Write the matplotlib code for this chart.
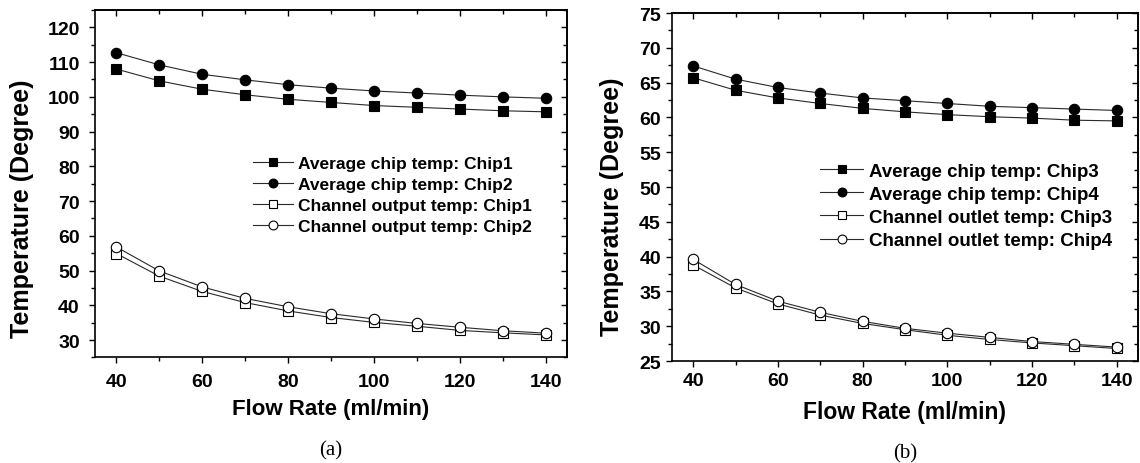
import matplotlib
matplotlib.use("Agg")
import matplotlib.pyplot as plt
from matplotlib.ticker import MultipleLocator

flow = [40, 50, 60, 70, 80, 90, 100, 110, 120, 130, 140]

# Panel (a)
a_avg_chip1 = [108.0, 104.6, 102.2, 100.6, 99.3, 98.4, 97.5, 97.0, 96.5, 96.0, 95.7]
a_avg_chip2 = [112.7, 109.2, 106.5, 104.9, 103.5, 102.5, 101.7, 101.1, 100.5, 100.0, 99.6]
a_out_chip1 = [54.9, 48.4, 44.0, 40.8, 38.4, 36.5, 35.1, 34.0, 32.8, 32.1, 31.5]
a_out_chip2 = [56.8, 49.9, 45.3, 42.0, 39.6, 37.6, 36.1, 34.8, 33.7, 32.7, 32.0]
a_labels = ["Average chip temp: Chip1", "Average chip temp: Chip2",
            "Channel output temp: Chip1", "Channel output temp: Chip2"]

# Panel (b)
b_avg_chip3 = [65.7, 63.9, 62.8, 62.0, 61.3, 60.8, 60.4, 60.1, 59.9, 59.6, 59.5]
b_avg_chip4 = [67.4, 65.5, 64.3, 63.5, 62.8, 62.4, 62.0, 61.6, 61.4, 61.2, 61.0]
b_out_chip3 = [38.8, 35.5, 33.2, 31.6, 30.4, 29.5, 28.7, 28.1, 27.6, 27.2, 26.8]
b_out_chip4 = [39.6, 36.0, 33.6, 32.0, 30.7, 29.7, 29.0, 28.4, 27.8, 27.4, 27.0]
b_labels = ["Average chip temp: Chip3", "Average chip temp: Chip4",
            "Channel outlet temp: Chip3", "Channel outlet temp: Chip4"]

SANS = "Liberation Sans"
SERIF = "Liberation Serif"

fig = plt.figure(figsize=(11.4, 4.64), dpi=100)
axa = fig.add_axes([0.0833, 0.2274, 0.4141, 0.7489])
axb = fig.add_axes([0.5895, 0.2198, 0.4085, 0.7500])

styles = [dict(marker="s", mfc="black"), dict(marker="o", mfc="black"),
          dict(marker="s", mfc="white"), dict(marker="o", mfc="white")]


def draw(ax, series, labels, ylim, ymaj, ymin, tick_fs, pad, xlab_fs, xlab_y,
         ylab_fs, ylab_xy, leg_anchor, leg_fs, leg_sp, tag):
    for ys, lab, st in zip(series, labels, styles):
        ax.plot(flow, ys, color="#2a2a2a", lw=0.8, marker=st["marker"],
                mfc=st["mfc"], mec="black", mew=0.8,
                ms=7.5 if st["marker"] == "o" else 6.5, label=lab)
    ax.set_xlim(35, 145)
    ax.set_ylim(*ylim)
    ax.xaxis.set_major_locator(MultipleLocator(20))
    ax.xaxis.set_minor_locator(MultipleLocator(10))
    ax.yaxis.set_major_locator(MultipleLocator(ymaj))
    ax.yaxis.set_minor_locator(MultipleLocator(ymin))
    ax.tick_params(which="both", direction="out", width=1.0)
    ax.tick_params(which="major", length=4.5, pad=pad)
    ax.tick_params(which="minor", length=3)
    for sp in ax.spines.values():
        sp.set_linewidth(1.2)
    for lab in ax.get_xticklabels() + ax.get_yticklabels():
        lab.set_fontfamily(SANS)
        lab.set_fontweight("bold")
        lab.set_fontsize(tick_fs)
    # inward ticks on top and right
    sx = ax.secondary_xaxis("top")
    sx.xaxis.set_major_locator(MultipleLocator(20))
    sx.xaxis.set_minor_locator(MultipleLocator(10))
    sx.tick_params(which="both", direction="in", labeltop=False, width=1.0)
    sx.tick_params(which="major", length=4.5)
    sx.tick_params(which="minor", length=3)
    sx.spines["top"].set_linewidth(1.2)
    sy = ax.secondary_yaxis("right")
    sy.yaxis.set_major_locator(MultipleLocator(ymaj))
    sy.yaxis.set_minor_locator(MultipleLocator(ymin))
    sy.tick_params(which="both", direction="in", labelright=False, width=1.0)
    sy.tick_params(which="major", length=4.5)
    sy.tick_params(which="minor", length=3)
    sy.spines["right"].set_linewidth(1.2)

    ax.set_xlabel("Flow Rate (ml/min)", fontfamily=SANS, fontweight="bold",
                  fontsize=xlab_fs)
    ax.xaxis.set_label_coords(0.5, xlab_y)
    ax.xaxis.label.set_va("center")
    ax.set_ylabel("Temperature (Degree)", fontfamily=SANS, fontweight="bold",
                  fontsize=ylab_fs)
    ax.yaxis.set_label_coords(*ylab_xy)
    ax.yaxis.label.set_va("center")
    ax.legend(loc="upper left", bbox_to_anchor=leg_anchor, frameon=False,
              borderpad=0, borderaxespad=0, handlelength=2.3,
              handletextpad=0.3, labelspacing=leg_sp, markerscale=0.85,
              prop=dict(family=SANS, weight="bold", size=leg_fs))
    ax.text(0.5, -0.265, tag, transform=ax.transAxes, ha="center", va="center",
            fontfamily=SERIF, fontsize=15)


draw(axa, [a_avg_chip1, a_avg_chip2, a_out_chip1, a_out_chip2], a_labels,
     (25, 125), 10, 5, 14, 6.5, 16, -0.148, 18, (-0.155, 0.43),
     (0.335, 0.58), 12.5, 0.34, "(a)")
draw(axb, [b_avg_chip3, b_avg_chip4, b_out_chip3, b_out_chip4], b_labels,
     (25, 75), 5, 2.5, 14, 3.5, 16.5, -0.145, 18, (-0.129, 0.445),
     (0.318, 0.57), 13.5, 0.32, "(b)")

fig.savefig("out.png", dpi=100)
